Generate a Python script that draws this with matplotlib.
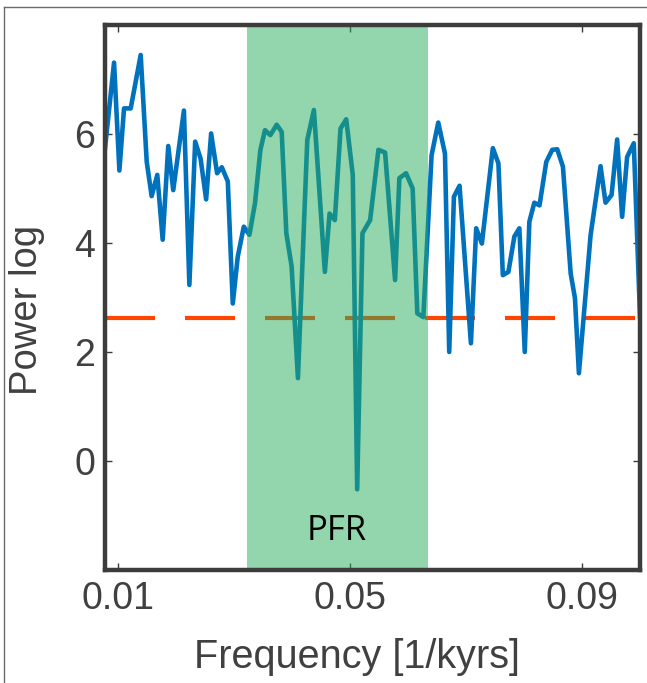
import matplotlib
matplotlib.use("Agg")
import matplotlib.pyplot as plt
from matplotlib.lines import Line2D

# ---- data ----
freq = [0.0078, 0.00936, 0.01028, 0.01108, 0.01223, 0.01395, 0.01499, 0.01584,
        0.01681, 0.01774, 0.01870, 0.01956, 0.02140, 0.02234, 0.02334, 0.02427,
        0.02523, 0.02609, 0.02712, 0.02793, 0.02896, 0.02982, 0.03068, 0.03172,
        0.03269, 0.03365, 0.03458, 0.03537, 0.03630, 0.03739, 0.03825, 0.03905,
        0.03996, 0.04105, 0.04266, 0.04380, 0.04569, 0.04650, 0.04741, 0.04839,
        0.04937, 0.05050, 0.05126, 0.05217, 0.05349, 0.05492, 0.05607, 0.05779,
        0.05853, 0.05968, 0.06082, 0.06162, 0.06266, 0.06408, 0.06523, 0.06639,
        0.06712, 0.06793, 0.06890, 0.07086, 0.07177, 0.07275, 0.07464, 0.07560,
        0.07636, 0.07732, 0.07835, 0.07921, 0.08014, 0.08093, 0.08179, 0.08268,
        0.08385, 0.08488, 0.08574, 0.08672, 0.08805, 0.08879, 0.08947, 0.09149,
        0.09320, 0.09406, 0.09510, 0.09606, 0.09692, 0.09778, 0.09893, 0.1000]
power = [5.74, 7.31, 5.33, 6.47, 6.47, 7.45, 5.49, 4.86,
         5.25, 4.06, 5.78, 4.97, 6.43, 3.23, 5.86, 5.55,
         4.80, 6.01, 5.28, 5.39, 5.13, 2.89, 3.75, 4.30,
         4.15, 4.73, 5.71, 6.07, 5.98, 6.17, 6.04, 4.18,
         3.57, 1.52, 5.89, 6.44, 3.47, 4.54, 4.42, 6.10,
         6.27, 5.25, -0.52, 4.18, 4.42, 5.71, 5.66, 3.32,
         5.19, 5.28, 5.00, 2.71, 2.64, 5.61, 6.21, 5.64,
         2.00, 4.85, 5.05, 2.16, 4.27, 3.99, 5.74, 5.46,
         3.41, 3.47, 4.12, 4.27, 2.00, 4.39, 4.74, 4.69,
         5.49, 5.71, 5.72, 5.40, 3.44, 2.99, 1.61, 4.15,
         5.41, 4.74, 4.88, 5.90, 4.48, 5.58, 5.83, 2.65]
threshold = 2.62
band = [0.0322, 0.0634]
band_label = "PFR"
xticks = [0.01, 0.05, 0.09]
xticklabels = ["0.01", "0.05", "0.09"]
yticks = [0, 2, 4, 6]
xlim = [0.0078, 0.1]
ylim = [-2, 8]

plt.rcParams["font.family"] = ["Liberation Sans", "DejaVu Sans"]
TXT = "#404040"

fig = plt.figure(figsize=(6.47, 6.83), dpi=100)
W, H = 647, 683
ax = fig.add_axes([105 / W, 1 - 570 / H, 535 / W, 545 / H])

ax.plot(freq, power, color="#0072BD", lw=3.3, zorder=2)
ax.plot(xlim, [threshold, threshold], color="#FF4500", lw=3.0,
        dashes=(12, 7.2), zorder=1)
ax.axvspan(band[0], band[1], color=(40 / 255, 172 / 255, 92 / 255),
           alpha=0.5, lw=0, zorder=3)
ax.text((band[0] + band[1]) / 2 - 0.0001, -1.28, band_label, ha="center",
        va="center", fontsize=25, family=["Open Sans", "DejaVu Sans"],
        color="black", zorder=4)

ax.set_xlim(xlim)
ax.set_ylim(ylim)
ax.set_xticks(xticks)
ax.set_xticklabels(xticklabels)
ax.set_yticks(yticks)
ax.tick_params(direction="in", length=5, width=1, color="#3c3c3c",
               labelsize=27, labelcolor=TXT, top=True, right=True)
ax.tick_params(axis="x", pad=8)
ax.tick_params(axis="y", pad=7)
for s in ax.spines.values():
    s.set_linewidth(3.2)
    s.set_color("#3c3c3c")
    s.set_zorder(5)

fig.text(27 / W, 1 - 310 / H, "Power log", rotation=90, ha="center",
         va="center", fontsize=27.5, color=TXT)
fig.text(357 / W, 1 - 657 / H, "Frequency [1/kyrs]", ha="center",
         va="center", fontsize=28.5, color=TXT)

# outer frame fragments (top and left edges of an enclosing box)
fig.add_artist(Line2D([4 / W, 1.0], [1 - 6.5 / H, 1 - 6.5 / H],
                      transform=fig.transFigure, color="#6a6a6a", lw=1.0))
fig.add_artist(Line2D([4 / W, 4 / W], [0.0, 1 - 6.5 / H],
                      transform=fig.transFigure, color="#6a6a6a", lw=1.0))

fig.savefig("out.png", dpi=100)
